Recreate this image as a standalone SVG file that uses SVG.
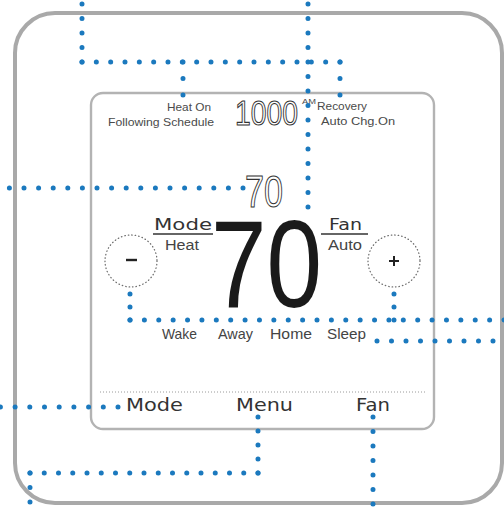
<svg xmlns="http://www.w3.org/2000/svg" width="504" height="509" viewBox="0 0 504 509">
  <style>
    .frame { fill: #ffffff; stroke: #a9a9a9; stroke-width: 4; }
    .display { fill: #ffffff; stroke: #b3b3b3; stroke-width: 2.4; }
    .sep { stroke: #9a9a9a; stroke-width: 1; stroke-dasharray: 1 2; fill: none; }
    .dots { stroke: #1b79be; stroke-width: 5; stroke-linecap: round; fill: none; }
    .ring { fill: none; stroke: #6f6f6f; stroke-width: 1.3; stroke-linecap: round; stroke-dasharray: 0.5 3; }
    .glyph { stroke: #222222; stroke-width: 2.4; stroke-linecap: butt; }
    .small { font-family: "Liberation Sans", Arial, sans-serif; font-size: 11px; fill: #4a4a4a; }
    .lbl { font-family: "Liberation Sans", Arial, sans-serif; font-size: 15px; fill: #444444; }
    .wide { font-family: "DejaVu Sans", Verdana, sans-serif; fill: #333333; }
    .lcd { font-family: "Liberation Sans", Arial, sans-serif; fill: #ffffff; stroke: #333333; stroke-width: 1.1; }
    .big { font-family: "Liberation Sans", Arial, sans-serif; font-size: 124px; fill: #1a1a1a; }
    .rule { stroke: #333333; stroke-width: 1.4; }
  </style>

  <g id="device">
    <rect class="frame" x="15" y="13" width="487" height="490" rx="40" ry="40"/>
  </g>

  <g id="display">
    <rect class="display" x="91" y="93" width="343" height="336" rx="12" ry="12"/>
    <line class="sep" x1="100" y1="392" x2="426" y2="392"/>
  </g>

  <g id="status-left">
    <text class="small" x="167" y="111" textLength="44" lengthAdjust="spacingAndGlyphs">Heat On</text>
    <text class="small" x="108" y="126" textLength="106" lengthAdjust="spacingAndGlyphs">Following Schedule</text>
  </g>

  <g id="clock">
    <text class="lcd" transform="translate(235 125) scale(0.809 1)" x="0" y="0" font-size="35">1000</text>
    <text class="small" x="302" y="104" textLength="14" lengthAdjust="spacingAndGlyphs" style="font-size:6.5px">AM</text>
  </g>

  <g id="status-right">
    <text class="small" x="317" y="110" textLength="50" lengthAdjust="spacingAndGlyphs">Recovery</text>
    <text class="small" x="321" y="125" textLength="74" lengthAdjust="spacingAndGlyphs">Auto Chg.On</text>
  </g>

  <g id="setpoint">
    <text class="lcd" transform="translate(245 207) scale(0.759 1)" x="0" y="0" font-size="45">70</text>
  </g>

  <g id="temperature">
    <text class="big" transform="translate(211 307) scale(0.805 1)" x="0" y="0">70</text>
  </g>

  <g id="mode-status">
    <text class="wide" x="154" y="230" font-size="16" textLength="58" lengthAdjust="spacingAndGlyphs">Mode</text>
    <line class="rule" x1="153" y1="234" x2="213" y2="234"/>
    <text class="lbl" x="165" y="250" textLength="34" lengthAdjust="spacingAndGlyphs" style="font-size:14px">Heat</text>
  </g>

  <g id="fan-status">
    <text class="wide" x="329" y="230" font-size="16" textLength="33" lengthAdjust="spacingAndGlyphs">Fan</text>
    <line class="rule" x1="321" y1="234" x2="368" y2="234"/>
    <text class="lbl" x="328" y="250" textLength="34" lengthAdjust="spacingAndGlyphs" style="font-size:14px">Auto</text>
  </g>

  <g id="minus-button">
    <circle class="ring" cx="131" cy="261" r="26"/>
    <line class="glyph" x1="126" y1="260" x2="137" y2="260"/>
  </g>

  <g id="plus-button">
    <circle class="ring" cx="394" cy="261" r="26"/>
    <line class="glyph" x1="389" y1="261" x2="399" y2="261" style="stroke-width:2"/>
    <line class="glyph" x1="394" y1="256" x2="394" y2="266" style="stroke-width:2"/>
  </g>

  <g id="schedule">
    <text class="lbl" x="162" y="339" textLength="35" lengthAdjust="spacingAndGlyphs">Wake</text>
    <text class="lbl" x="218" y="339" textLength="35" lengthAdjust="spacingAndGlyphs">Away</text>
    <text class="lbl" x="270" y="339" textLength="42" lengthAdjust="spacingAndGlyphs">Home</text>
    <text class="lbl" x="327" y="339" textLength="39" lengthAdjust="spacingAndGlyphs">Sleep</text>
  </g>

  <g id="soft-keys">
    <text class="wide" x="126" y="411" font-size="17" textLength="57" lengthAdjust="spacingAndGlyphs">Mode</text>
    <text class="wide" x="236" y="411" font-size="17" textLength="57" lengthAdjust="spacingAndGlyphs">Menu</text>
    <text class="wide" x="356" y="411" font-size="17" textLength="34" lengthAdjust="spacingAndGlyphs">Fan</text>
  </g>

  <g id="connectors">
    <line class="dots" x1="82" y1="62" x2="82" y2="-3" stroke-dasharray="0 14.5"/>
    <line class="dots" x1="82" y1="62" x2="340.5" y2="62" stroke-dasharray="0 14.333"/>
    <line class="dots" x1="308" y1="207" x2="308" y2="-3" stroke-dasharray="0 14.5"/>
    <line class="dots" x1="183" y1="62" x2="183" y2="95.5" stroke-dasharray="0 16.5"/>
    <line class="dots" x1="340" y1="62" x2="340" y2="95.5" stroke-dasharray="0 16.5"/>
    <line class="dots" x1="243" y1="188" x2="-6" y2="188" stroke-dasharray="0 14.6"/>
    <line class="dots" x1="130" y1="294" x2="130" y2="320.5" stroke-dasharray="0 13"/>
    <line class="dots" x1="130" y1="320" x2="510" y2="320" stroke-dasharray="0 14.385"/>
    <line class="dots" x1="394" y1="294" x2="394" y2="320.5" stroke-dasharray="0 13"/>
    <line class="dots" x1="377" y1="341" x2="510" y2="341" stroke-dasharray="0 14.5"/>
    <line class="dots" x1="118" y1="407" x2="-6" y2="407" stroke-dasharray="0 14.7"/>
    <line class="dots" x1="258" y1="417" x2="258" y2="473.5" stroke-dasharray="0 14"/>
    <line class="dots" x1="258" y1="473" x2="29.5" y2="473" stroke-dasharray="0 14.25"/>
    <line class="dots" x1="30" y1="473" x2="30" y2="515" stroke-dasharray="0 14.5"/>
    <line class="dots" x1="373" y1="417" x2="373" y2="515" stroke-dasharray="0 14.5"/>
  </g>
</svg>
